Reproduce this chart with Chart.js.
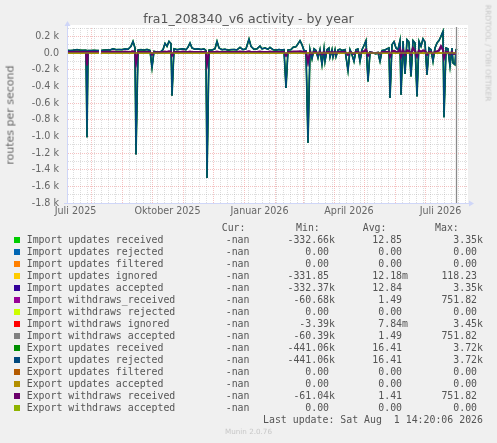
<!DOCTYPE html>
<html><head><meta charset="utf-8">
<script src="https://cdn.jsdelivr.net/npm/chart.js@4"></script>
<style>
html,body{margin:0;padding:0;background:#f0f0f0;}
#wrap{position:relative;width:497px;height:443px;overflow:hidden;background:#f0f0f0;font-family:"DejaVu Sans",sans-serif;}
#c{position:absolute;left:0;top:0;}
.t{position:absolute;white-space:pre;}
#title{left:0;width:497px;top:11px;text-align:center;font-size:12.5px;line-height:16px;color:#555;}
#ytitle{left:10px;top:115px;font-size:11px;color:#666;transform:translate(-50%,-50%) rotate(-90deg);}
#rrd{left:488px;top:53px;font-size:7.5px;color:#c8c8c8;transform:translate(-50%,-50%) rotate(90deg);}
#munin{left:0;width:497px;top:426px;text-align:center;font-size:7.2px;color:#c8c8c8;line-height:12px;}
.m{font-family:"DejaVu Sans Mono",monospace;font-size:9.9px;line-height:12px;color:#555;}
.sq{position:absolute;width:6px;height:6px;}
</style>
</head><body>
<div id="wrap">
<canvas id="c" width="497" height="443"></canvas>
<div class="t" id="title">fra1_208340_v6 activity - by year</div>
<div class="t" id="ytitle">routes per second</div>
<div class="t" id="rrd">RRDTOOL / TOBI OETIKER</div>
<div class="t" id="munin">Munin 2.0.76</div>
<div id="legend"></div>
</div>
<script>
// ---- data (x = days since 1 July 2025) ----
const DAYS = [
  7,10,13,17,20,23,26,27,28,31,
  34,37,39,40,41,44,47,50,53,56,
  59,62,65,68,71,73,75,76,78,81,
  84,87,90,92,94,97,100,103,105,107,
  109,111,112,114,117,120,123,126,128,130,
  132,135,138,141,144,146,147,149,152,155,
  157,159,162,165,168,171,174,177,180,183,
  186,189,191,194,197,200,202,205,208,210,
  213,216,219,222,224,226,228,231,233,236,
  238,240,242,244,246,248,250,252,254,256,
  258,260,262,264,265,267,269,270,272,273,
  275,276,278,280,282,285,288,290,292,294,
  296,298,300,302,304,306,308,310,313,316,
  318,320,322,325,327,329,330,332,334,336,
  338,340,341,343,345,347,349,351,353,355,
  357,359,361,363,365,367,369,371,373,375,
  377,379,381,383,384,386,388,390,392,393,
  395,396,397
];
const UPDATES = [
  32,30,33,40,34,32,33,-1010,30,30,
  32,30,30,null,30,35,38,36,50,40,
  42,40,48,45,80,140,60,-1216,35,40,
  35,42,30,-176,20,10,8,40,116,80,
  140,110,-510,50,40,45,50,40,70,120,
  60,45,50,42,48,30,-1500,35,36,50,
  140,60,40,45,35,40,42,38,68,40,
  50,168,80,45,50,84,50,60,45,68,
  40,35,42,36,40,-420,36,40,68,76,
  110,148,100,30,28,-1076,40,-70,50,30,
  -60,40,-140,50,-100,40,60,-50,40,-50,
  40,-43,36,45,30,40,-210,40,-20,-100,
  40,48,-100,40,90,148,-340,10,0,-10,
  5,-100,30,36,50,60,-540,100,136,60,
  40,150,-500,140,-250,160,130,-280,150,120,
  -520,140,80,170,130,-260,60,40,-100,60,
  120,150,200,260,-770,60,50,-160,60,-120,
  -140,40,50
];
const WITHDRAWS = [
  12,12,12,14,12,12,12,-150,12,12,
  12,12,12,null,12,12,14,12,15,12,
  12,12,14,12,15,18,12,-120,12,12,
  12,12,12,-20,10,8,8,12,15,12,
  18,15,-30,12,12,12,14,12,12,15,
  12,12,12,12,12,12,-130,12,12,12,
  15,12,12,12,12,12,12,12,14,12,
  12,18,12,12,12,14,12,12,12,14,
  12,12,12,12,12,-30,12,12,14,14,
  15,18,15,12,12,-110,12,-10,12,12,
  -10,12,-15,12,-10,12,12,-5,12,-5,
  12,-5,12,12,12,12,-20,12,0,-10,
  12,12,-10,12,20,40,-30,5,2,0,
  2,-10,12,12,12,14,-40,20,25,12,
  12,50,-40,30,-20,30,25,-20,60,25,
  -40,30,15,30,25,-20,12,12,-10,12,
  20,30,80,40,-60,12,12,-15,12,-10,
  -10,12,12
];
const ZERO = UPDATES.map(v => v === null ? null : 0);

const SERIES_LABELS = [
  "Import updates received","Import updates rejected","Import updates filtered","Import updates ignored",
  "Import updates accepted","Import withdraws_received","Import withdraws rejected","Import withdraws ignored",
  "Import withdraws accepted","Export updates received","Export updates rejected","Export updates filtered",
  "Export updates accepted","Export withdraws received","Export withdraws accepted"
];
const SERIES_COLORS = ["#00CC00","#0066B3","#FF8000","#FFCC00","#330099","#990099","#CCFF00","#FF0000",
  "#808080","#008F00","#00487D","#B35A00","#B38F00","#6B006B","#8FB300"];
const SERIES_DATA = [UPDATES,ZERO,ZERO,ZERO,UPDATES,WITHDRAWS,ZERO,ZERO,WITHDRAWS,UPDATES,UPDATES,ZERO,ZERO,WITHDRAWS,ZERO];
const SERIES_WIDTH = [1,1,1,1,1,2,1,1,2,1.7,1.4,1,1,2,1];
const CUR = ["-nan","-nan","-nan","-nan","-nan","-nan","-nan","-nan","-nan","-nan","-nan","-nan","-nan","-nan","-nan"];
const MIN = ["-332.66k","0.00","0.00","-331.85","-332.37k","-60.68k","0.00","-3.39k","-60.39k","-441.06k","-441.06k","0.00","0.00","-61.04k","0.00"];
const AVG = ["12.85","0.00","0.00","12.18m","12.84","1.49","0.00","7.84m","1.49","16.41","16.41","0.00","0.00","1.41","0.00"];
const MAX = ["3.35k","0.00","0.00","118.23","3.35k","751.82","0.00","3.45k","751.82","3.72k","3.72k","0.00","0.00","751.82","0.00"];

const X_MIN = 7, X_MAX = 407, NOW_DAY = 396;
const MONTH_STARTS = [31,62,92,123,153,184,215,243,274,304,335,365,396];
const X_LABEL_POS = [15.5,107.5,199.5,289,380.5];
const X_LABELS = ["Juli 2025","Oktober 2025","Januar 2026","April 2026","Juli 2026"];
const Y_MIN = -1800, Y_MAX = 300;
const Y_LABEL_VALUES = [200,0,-200,-400,-600,-800,-1000,-1200,-1400,-1600,-1800];
const Y_LABELS = ["0.2 k","0.0","-0.2 k","-0.4 k","-0.6 k","-0.8 k","-1.0 k","-1.2 k","-1.4 k","-1.6 k","-1.8 k"];

// ---- grid helpers ----
const MAJOR = 'rgba(230,110,110,0.42)';
const MINOR = 'rgba(150,150,150,0.32)';
const AXIS = '#CFD6F8';
const xGrid = [];
for (let d = 13; d < X_MAX; d += 7) if (!MONTH_STARTS.includes(d)) xGrid.push({value:d, isMonth:false});
MONTH_STARTS.forEach(d => xGrid.push({value:d, isMonth:true}));
const yGrid = [];
for (let v = Y_MIN; v <= Y_MAX; v += 100) yGrid.push({value:v});

const datasets = SERIES_LABELS.map((lab,i) => ({
  label: lab,
  data: DAYS.map((d,k) => ({x:d, y:SERIES_DATA[i][k]})),
  borderColor: SERIES_COLORS[i],
  backgroundColor: SERIES_COLORS[i],
  borderWidth: SERIES_WIDTH[i],
  pointRadius: 0,
  tension: 0,
  spanGaps: false,
  fill: false,
  order: SERIES_LABELS.length - i
}));

const deco = {
  id:'deco',
  beforeDraw(chart){
    const {ctx, chartArea:a} = chart;
    ctx.save(); ctx.fillStyle = '#ffffff';
    ctx.fillRect(a.left, a.top - 3, a.right - a.left + 1, a.bottom - a.top + 3);
    ctx.restore();
  },
  afterDatasetsDraw(chart){
    const {ctx, chartArea:a, scales} = chart;
    const x = Math.round(scales.x.getPixelForValue(NOW_DAY)) + 0.5;
    ctx.save(); ctx.strokeStyle = '#8a8a8a'; ctx.lineWidth = 1.3;
    ctx.beginPath(); ctx.moveTo(x, a.top - 1); ctx.lineTo(x, a.bottom); ctx.stroke();
    ctx.restore();
  },
  afterDraw(chart){
    const {ctx, chartArea:a} = chart;
    ctx.save();
    ctx.strokeStyle = AXIS; ctx.fillStyle = AXIS; ctx.lineWidth = 1;
    const L = a.left + 0.5, B = a.bottom + 0.5;
    ctx.beginPath(); ctx.moveTo(L, a.top); ctx.lineTo(L, a.top - 2); ctx.stroke();
    ctx.beginPath(); ctx.moveTo(a.left - 3, B); ctx.lineTo(a.right + 3, B); ctx.stroke();
    ctx.beginPath(); ctx.moveTo(L - 3, a.top - 2); ctx.lineTo(L + 3, a.top - 2); ctx.lineTo(L, a.top - 7); ctx.closePath(); ctx.fill();
    ctx.beginPath(); ctx.moveTo(a.right + 2, B - 3); ctx.lineTo(a.right + 2, B + 3); ctx.lineTo(a.right + 7, B); ctx.closePath(); ctx.fill();
    ctx.restore();
  }
};

const tickFont = {family:'DejaVu Sans', size:9.6};
new Chart(document.getElementById('c'), {
  type:'line',
  data:{datasets},
  plugins:[deco],
  options:{
    responsive:false, animation:false, devicePixelRatio:1,
    layout:{padding:{left:0, top:28, right:30, bottom:220}},
    plugins:{legend:{display:false}, tooltip:{enabled:false}, title:{display:false}},
    scales:{
      x:{type:'linear', position:'bottom', min:X_MIN, max:X_MAX, weight:0,
        afterBuildTicks(s){ s.ticks = xGrid.map(t => ({value:t.value, isMonth:t.isMonth})); },
        afterFit(s){ s.height = 0; },
        ticks:{display:false},
        grid:{drawTicks:false, lineWidth:1, color:c => (c.tick && c.tick.isMonth) ? MAJOR : MINOR},
        border:{display:true, color:AXIS, width:1, dash:[1,1], z:1}
      },
      x2:{type:'linear', position:'bottom', min:X_MIN, max:X_MAX, weight:1,
        afterBuildTicks(s){ s.ticks = X_LABEL_POS.map(v => ({value:v})); },
        afterFit(s){ s.height = 20; },
        grid:{display:false, drawTicks:false},
        border:{display:false},
        ticks:{autoSkip:false, maxRotation:0, minRotation:0, padding:3, color:'#666', font:tickFont,
          callback:(v,i) => X_LABELS[i]}
      },
      y:{type:'linear', min:Y_MIN, max:Y_MAX,
        afterBuildTicks(s){ s.ticks = yGrid.map(t => ({value:t.value})); },
        afterFit(s){ s.width = 67; },
        ticks:{autoSkip:false, padding:8, color:'#666', font:tickFont,
          callback:(v) => { const k = Y_LABEL_VALUES.indexOf(v); return k >= 0 ? Y_LABELS[k] : ''; }},
        grid:{drawTicks:false, lineWidth:1, color:c => (c.tick && Y_LABEL_VALUES.includes(c.tick.value)) ? MAJOR : MINOR},
        border:{display:true, color:AXIS, width:1, dash:[1,1], z:1}
      }
    }
  }
});

// ---- legend (HTML text) ----
const leg = document.getElementById('legend');
function addText(txt, left, top, align, width){
  const d = document.createElement('div');
  d.className = 't m';
  d.textContent = txt;
  d.style.top = top + 'px';
  if (align === 'right') { d.style.left = (left - width) + 'px'; d.style.width = width + 'px'; d.style.textAlign = 'right'; }
  else d.style.left = left + 'px';
  leg.appendChild(d);
}
const ROW0 = 233.7, ROWH = 12;
addText('Cur:', 221.7, ROW0 - ROWH, 'left');
addText('Min:', 296, ROW0 - ROWH, 'left');
addText('Avg:', 362.7, ROW0 - ROWH, 'left');
addText('Max:', 435, ROW0 - ROWH, 'left');
const suf = s => /[km]$/.test(s) ? s : s + ' ';
SERIES_LABELS.forEach((lab,i) => {
  const top = ROW0 + i * ROWH;
  const sq = document.createElement('div');
  sq.className = 'sq'; sq.style.left = '14px'; sq.style.top = (top + 3.3) + 'px'; sq.style.background = SERIES_COLORS[i];
  leg.appendChild(sq);
  addText(lab, 26.7, top, 'left');
  addText(CUR[i], 249.5, top, 'right', 60);
  addText(suf(MIN[i]), 335, top, 'right', 70);
  addText(suf(AVG[i]), 408, top, 'right', 70);
  addText(suf(MAX[i]), 483, top, 'right', 70);
});
addText('Last update: Sat Aug  1 14:20:06 2026', 483, ROW0 + 15 * ROWH, 'right', 260);
</script>
</body></html>
